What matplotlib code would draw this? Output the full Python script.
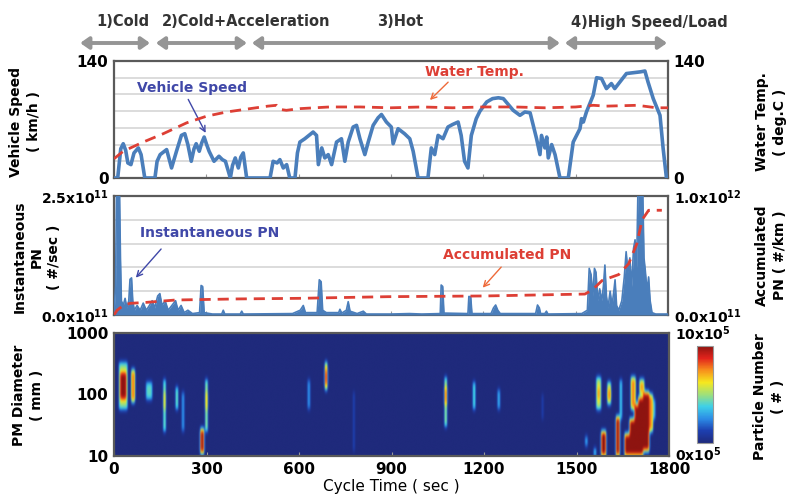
import numpy as np
import matplotlib
matplotlib.use("Agg")
import matplotlib.pyplot as plt
from matplotlib.colors import LinearSegmentedColormap
from matplotlib.transforms import blended_transform_factory

plt.rcParams['font.family'] = 'DejaVu Sans'
plt.rcParams['font.weight'] = 'bold'
plt.rcParams['mathtext.fontset'] = 'dejavusans'
plt.rcParams['mathtext.default'] = 'bf'

# ---- data ----
# vehicle speed (km/h)
speed_t = [0, 12, 22, 30, 38, 45, 55, 65, 79, 88, 100, 133, 140, 150, 171, 187, 203, 219, 230, 240,
           251, 260, 267, 277, 285, 293, 301, 309, 325, 341, 352, 362, 378, 385, 394, 404, 412, 420,
           431, 507, 517, 530, 539, 550, 561, 571, 588, 596, 604, 620, 647, 658, 664, 675, 685, 696,
           707, 723, 739, 750, 761, 777, 788, 799, 815, 826, 842, 858, 869, 885, 901, 907, 923, 944,
           961, 972, 988, 1020, 1031, 1042, 1053, 1069, 1085, 1100, 1118, 1128, 1139, 1150, 1161,
           1177, 1189, 1211, 1230, 1249, 1265, 1297, 1319, 1335, 1352, 1373, 1384, 1389, 1400, 1406,
           1411, 1422, 1433, 1449, 1476, 1492, 1514, 1519, 1525, 1535, 1557, 1568, 1584, 1600, 1616,
           1627, 1644, 1665, 1687, 1710, 1725, 1735, 1752, 1774, 1784, 1795, 1800]
speed_v = [0, 0, 35, 41, 33, 18, 16, 30, 36, 28, 0, 0, 20, 28, 34, 12, 32, 51, 53, 40,
           20, 35, 41, 32, 42, 49, 40, 32, 20, 26, 22, 20, 0, 15, 24, 12, 25, 30,
           0, 0, 20, 18, 22, 12, 16, 0, 0, 30, 43, 47, 55, 51, 16, 36, 24, 28,
           16, 43, 47, 20, 43, 61, 63, 47, 28, 43, 63, 72, 76, 67, 61, 41, 59, 53,
           47, 32, 0, 0, 36, 28, 51, 47, 61, 64, 67, 51, 20, 12, 51,
           71, 80, 91, 95, 96, 95, 81, 75, 79, 78, 47, 28, 51, 36, 49,
           24, 40, 28, 0, 0, 43, 59, 71, 67, 79, 99, 120, 119, 107, 113,
           107, 115, 125, 126, 127, 128, 115, 95, 75, 36, 0, 0]

# water temperature (deg.C)
water_t = [0, 30, 95, 160, 236, 301, 366, 442, 500, 528, 540, 560, 604, 700, 800, 900, 1000, 1100,
           1200, 1300, 1400, 1500, 1557, 1600, 1700, 1763, 1800]
water_v = [23, 32, 43, 53, 66, 74, 79, 83, 86, 87, 82, 81, 83, 85, 85, 84, 85, 84,
           85, 85, 84, 85, 87, 86, 87, 84, 84]

# instantaneous PN (x1e11 #/sec)
pn_t = [0, 5, 8, 12, 18, 21, 24, 30, 36, 42, 48, 52, 57, 61, 66, 75, 85, 95, 105, 115, 124, 132,
        142, 149, 156, 166, 176, 188, 200, 208, 218, 228, 240, 255, 278, 283, 288, 293, 320, 350,
        355, 360, 410, 415, 420, 580, 605, 615, 622, 660, 667, 673, 678, 690, 730, 734, 740, 755,
        761, 767, 790, 810, 820, 900, 960, 1000, 1060, 1063, 1068, 1072, 1150, 1153, 1159, 1163,
        1225, 1233, 1240, 1247, 1255, 1370, 1376, 1382, 1386, 1400, 1405, 1410, 1520, 1538, 1544,
        1550, 1556, 1561, 1566, 1572, 1578, 1585, 1590, 1595, 1600, 1605, 1612, 1618, 1624, 1628,
        1633, 1640, 1650, 1658, 1664, 1670, 1676, 1682, 1688, 1693, 1698, 1702, 1710, 1718, 1722,
        1726, 1732, 1737, 1742, 1748, 1760, 1800]
pn_v = [0, 0.6, 2.5, 2.6, 2.6, 1.2, 0.3, 0.2, 0.35, 0.15, 0.3, 0.75, 0.78, 0.3, 0.1, 0.2, 0.1,
        0.25, 0.1, 0.2, 0.3, 0.15, 0.4, 0.45, 0.2, 0.3, 0.1, 0.2, 0.3, 0.1, 0.2, 0.05, 0.1, 0.03,
        0.05, 0.62, 0.6, 0.05, 0.02, 0.02, 0.1, 0.02, 0.02, 0.08, 0.02, 0.03, 0.1, 0.2, 0.05, 0.05,
        0.74, 0.7, 0.1, 0.05, 0.05, 0.12, 0.04, 0.1, 0.28, 0.08, 0.03, 0.08, 0.02, 0.02, 0.03, 0.02,
        0.03, 0.63, 0.6, 0.04, 0.03, 0.39, 0.38, 0.03, 0.03, 0.15, 0.21, 0.1, 0.03, 0.03, 0.21,
        0.15, 0.03, 0.03, 0.08, 0.02, 0.03, 0.1, 0.98, 0.85, 0.4, 0.98, 0.9, 0.3, 0.55, 0.3, 0.6,
        1.05, 0.4, 0.15, 0.5, 0.2, 0.5, 0.74, 0.2, 0.1, 0.3, 0.8, 1.33, 0.9, 1.2, 0.6, 1.4, 1.58,
        1.0, 2.5, 2.6, 2.6, 1.2, 0.95, 0.5, 0.8, 0.3, 0.05, 0.02, 0.02]

# accumulated PN (x1e12 #/km)
acc_t = [0, 10, 30, 52, 100, 200, 400, 600, 890, 1205, 1530, 1554, 1586, 1640, 1672, 1699, 1716,
         1737, 1780]
acc_v = [0, 0.04, 0.08, 0.098, 0.105, 0.126, 0.135, 0.14, 0.154, 0.16, 0.176, 0.21, 0.29, 0.34,
         0.43, 0.6, 0.8, 0.88, 0.88]

# particle size distribution spots: time span (s), diameter span (nm), level (0..1 of 10x10^5)
hm_t0 = [15, 22, 58, 105, 160, 160, 200, 220, 280, 296, 296, 630, 684, 684, 775,
         1072, 1072, 1165, 1245, 1388, 1530, 1556, 1565, 1568, 1580, 1600, 1602, 1628, 1640,
         1655, 1672, 1690, 1700, 1716, 1736, 1746, 1675, 1705]
hm_t1 = [45, 40, 68, 125, 168, 168, 208, 226, 290, 304, 304, 636, 692, 692, 781,
         1080, 1080, 1171, 1251, 1393, 1536, 1562, 1578, 1576, 1596, 1612, 1610, 1638, 1646,
         1672, 1690, 1700, 1716, 1736, 1746, 1754, 1690, 1718]
hm_dlo = [60, 85, 75, 85, 25, 60, 60, 25, 11, 25, 60, 60, 115, 150, 12,
          30, 70, 55, 60, 40, 14, 10, 60, 80, 10, 70, 80, 10, 40,
          10, 10, 10, 10, 12, 25, 40, 60, 100]
hm_dhi = [320, 220, 260, 160, 180, 110, 130, 110, 28, 170, 110, 180, 340, 260, 110,
          190, 130, 160, 120, 100, 20, 13, 190, 130, 25, 160, 120, 45, 170,
          22, 40, 70, 95, 105, 100, 80, 190, 180]
hm_level = [0.5, 1.0, 0.8, 0.42, 0.5, 0.7, 0.5, 0.3, 1.0, 0.55, 0.75, 0.3, 0.75, 1.0, 0.22,
            0.55, 0.9, 0.45, 0.35, 0.2, 0.35, 0.45, 0.55, 0.75, 1.0, 0.6, 0.8, 1.0, 0.4,
            1.0, 1.0, 1.0, 1.0, 1.0, 0.75, 0.35, 0.75, 0.72]

phase_names = ['1)Cold', '2)Cold+Acceleration', '3)Hot', '4)High Speed/Load']
phase_start = [-110, 136, 448, 1465]
phase_end = [117, 432, 1449, 1797]

x_ticks = [0, 300, 600, 900, 1200, 1500, 1800]

# ---- styling ----
blue = '#4a7ebb'
red = '#dd3f35'
navy_txt = '#4048a8'
spine_c = '#5a5a5a'
grid_c = '#d9d9d9'
pm_cmap = LinearSegmentedColormap.from_list(
    'pm', ['#1f2a7c', '#1d3fb0', '#2c8ce6', '#3ed0e8', '#9fe07a', '#f6e81e', '#f7901c',
           '#e2231c', '#8e1410'])

W, H = 791, 504
fig = plt.figure(figsize=(W / 100, H / 100), dpi=100)


def box(left, top, right, bottom):
    return [left / W, (H - bottom) / H, (right - left) / W, (bottom - top) / H]


def style_axes(ax):
    for s in ax.spines.values():
        s.set_color(spine_c)
        s.set_linewidth(1.6)
    ax.set_xlim(0, 1800)
    ax.set_xticks(x_ticks)
    ax.tick_params(axis='x', direction='in', length=3, color='#999999', labelbottom=False)
    ax.tick_params(axis='y', length=0, labelsize=11, pad=4)


def soften(a, kernel, axis):
    k = np.array(kernel, dtype=float)
    k /= k.sum()
    return np.apply_along_axis(lambda m: np.convolve(m, k, mode='same'), axis, a)


# top panel: speed + water temp
ax1 = fig.add_axes(box(114, 61, 668, 178))
style_axes(ax1)
ax1.set_ylim(0, 140)
ax1.set_yticks(np.arange(0, 141, 20))
ax1.set_yticklabels(['0', '', '', '', '', '', '', '140'])
ax1.grid(axis='y', color=grid_c, lw=1.3)
ax1.set_axisbelow(True)
ax1.plot(speed_t, speed_v, color=blue, lw=2.6, zorder=3)
ax1b = ax1.twinx()
ax1b.set_ylim(0, 140)
ax1b.set_yticks([0, 140])
ax1b.set_yticklabels(['0', '140'])
ax1b.tick_params(axis='y', length=0, labelsize=11, pad=4)
for s in ax1b.spines.values():
    s.set_visible(False)
ax1b.plot(water_t, water_v, color=red, lw=2, ls=(0, (4, 2.5)), zorder=4)

ax1.text(253, 108, 'Vehicle Speed', color=navy_txt, fontsize=10, ha='center', va='center')
ax1.annotate('', xy=(302, 51), xytext=(237, 97),
             arrowprops=dict(arrowstyle='->', color=navy_txt, lw=1))
ax1.text(1170, 127, 'Water Temp.', color=red, fontsize=10, ha='center', va='center')
ax1.annotate('', xy=(1020, 91), xytext=(1092, 117),
             arrowprops=dict(arrowstyle='->', color='#ee6a3a', lw=1))

# middle panel: PN
ax2 = fig.add_axes(box(114, 196, 668, 315))
style_axes(ax2)
ax2.tick_params(axis='y', labelsize=10)
ax2.set_ylim(0, 2.5)
ax2.set_yticks(np.arange(0, 2.51, 0.5))
ax2.set_yticklabels(['0.0x10$^{11}$', '', '', '', '', '2.5x10$^{11}$'])
ax2.grid(axis='y', color=grid_c, lw=1.3)
ax2.set_axisbelow(True)
ax2.fill_between(pn_t, 0, pn_v, color=blue, lw=0, zorder=3)
ax2.plot(pn_t, pn_v, color=blue, lw=1.2, zorder=3)
ax2b = ax2.twinx()
ax2b.set_ylim(0, 1.0)
ax2b.set_yticks([0, 1.0])
ax2b.set_yticklabels(['0.0x10$^{11}$', '1.0x10$^{12}$'])
ax2b.tick_params(axis='y', length=0, labelsize=10, pad=4)
for s in ax2b.spines.values():
    s.set_visible(False)
ax2b.plot(acc_t, acc_v, color=red, lw=2, ls=(0, (4, 2.5)), zorder=4)

ax2.text(312, 1.72, 'Instantaneous PN', color=navy_txt, fontsize=10, ha='center', va='center')
ax2.annotate('', xy=(65, 0.74), xytext=(159, 1.43),
             arrowprops=dict(arrowstyle='->', color=navy_txt, lw=1))
ax2.text(1277, 1.26, 'Accumulated PN', color=red, fontsize=10, ha='center', va='center')
ax2.annotate('', xy=(1192, 0.53), xytext=(1264, 1.05),
             arrowprops=dict(arrowstyle='->', color='#ee6a3a', lw=1))

# bottom panel: size distribution map (y in log10 of diameter)
ax3 = fig.add_axes(box(114, 333, 669, 456))
style_axes(ax3)
ax3.tick_params(axis='x', labelbottom=True, labelsize=11, pad=4)
t_step, d_step = 4, 0.04
grid_t = np.arange(0, 1800, t_step) + t_step / 2
grid_ld = np.arange(1, 3, d_step) + d_step / 2
Z = np.zeros((len(grid_ld), len(grid_t)))
for t0, t1, d0, d1, lv in zip(hm_t0, hm_t1, hm_dlo, hm_dhi, hm_level):
    rows = (grid_ld >= np.log10(d0)) & (grid_ld <= np.log10(d1))
    cols = (grid_t >= t0) & (grid_t <= t1)
    Z[np.ix_(rows, cols)] = np.maximum(Z[np.ix_(rows, cols)], lv)
Z = soften(Z, [1, 3, 1], 1)
Z = soften(Z, [1, 3, 5, 3, 1], 0)
img = ax3.imshow(Z, extent=[0, 1800, 1, 3], origin='lower', aspect='auto', cmap=pm_cmap,
                 vmin=0, vmax=1, interpolation='bicubic')
ax3.set_ylim(1, 3)
ax3.set_yticks([1, 2, 3])
ax3.set_yticklabels(['10', '100', '1000'])
ax3.set_xlabel('Cycle Time ( sec )', fontsize=11, labelpad=2)

cax = fig.add_axes(box(697, 346, 713, 443))
cb = fig.colorbar(img, cax=cax)
cb.set_ticks([])
cb.outline.set_edgecolor('#999999')
fig.text(675 / W, 1 - 334 / H, '10x10$^5$', fontsize=10, ha='left', va='center')
fig.text(675 / W, 1 - 455 / H, '0x10$^5$', fontsize=10, ha='left', va='center')

# phase arrows on top
trans = blended_transform_factory(ax1.transData, fig.transFigure)
for name, t0, t1 in zip(phase_names, phase_start, phase_end):
    ax1.annotate('', xy=(t1, 1 - 43 / H), xytext=(t0, 1 - 43 / H), xycoords=trans,
                 textcoords=trans, annotation_clip=False,
                 arrowprops=dict(arrowstyle='<|-|>,head_length=0.5,head_width=0.35',
                                 color='#959595', lw=2.8, shrinkA=0, shrinkB=0))
label_x = [30, 430, 930, 1740]
for name, lx in zip(phase_names, label_x):
    ax1.text(lx, 1 - 22 / H, name, transform=trans, fontsize=10.5, ha='center', va='center',
             color='#333333')

# axis titles
fs = 10
fig.text(25 / W, 1 - 122 / H, 'Vehicle Speed\n( km/h )', rotation=90, fontsize=fs,
         ha='center', va='center', multialignment='center', linespacing=1.3)
fig.text(37 / W, 1 - 257 / H, 'Instantaneous\nPN\n( #/sec )', rotation=90, fontsize=fs,
         ha='center', va='center', multialignment='center', linespacing=1.3)
fig.text(28 / W, 1 - 395 / H, 'PM Diameter\n( mm )', rotation=90, fontsize=fs,
         ha='center', va='center', multialignment='center', linespacing=1.3)
fig.text(771 / W, 1 - 122 / H, 'Water Temp.\n( deg.C )', rotation=90, fontsize=fs,
         ha='center', va='center', multialignment='center', linespacing=1.3)
fig.text(771 / W, 1 - 255 / H, 'Accumulated\nPN ( #/km )', rotation=90, fontsize=fs,
         ha='center', va='center', multialignment='center', linespacing=1.3)
fig.text(769 / W, 1 - 397 / H, 'Particle Number\n( # )', rotation=90, fontsize=fs,
         ha='center', va='center', multialignment='center', linespacing=1.3)

fig.savefig('out.png', dpi=100)
